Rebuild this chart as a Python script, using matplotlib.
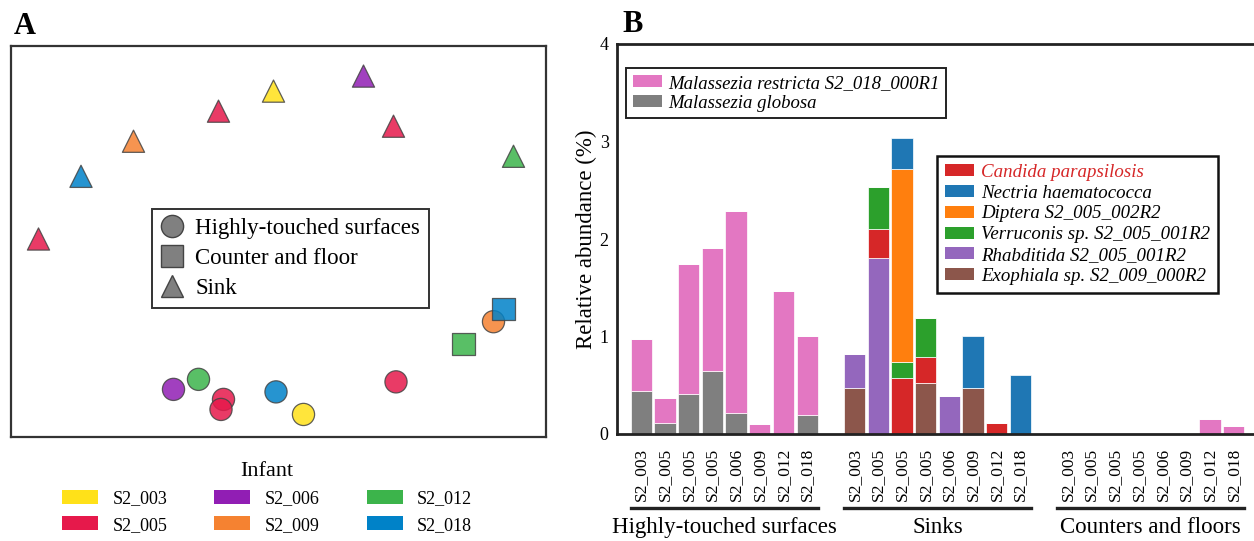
import matplotlib.pyplot as plt
from matplotlib.patches import Patch
from matplotlib.lines import Line2D
import numpy as np

plt.rcParams['font.family'] = ['Liberation Serif', 'DejaVu Serif']

# ---- Panel A: ordination of samples ----
infants = ['S2_003', 'S2_005', 'S2_006', 'S2_009', 'S2_012', 'S2_018']
infant_colors = ['#ffe119', '#e6194b', '#911eb4', '#f58231', '#3cb44b', '#0082c8']

# sink samples (triangles)
sink_infant = ['S2_006', 'S2_003', 'S2_005', 'S2_005', 'S2_009', 'S2_012', 'S2_018', 'S2_005']
sink_x = [0.34, -0.02, -0.24, 0.46, -0.58, 0.94, -0.79, -0.96]
sink_y = [0.66, 0.60, 0.52, 0.46, 0.40, 0.34, 0.26, 0.01]

# highly-touched surface samples (circles)
surf_infant = ['S2_009', 'S2_006', 'S2_012', 'S2_005', 'S2_005', 'S2_018', 'S2_003', 'S2_005']
surf_x = [0.86, -0.42, -0.32, -0.22, -0.23, -0.01, 0.10, 0.47]
surf_y = [-0.32, -0.59, -0.55, -0.63, -0.67, -0.60, -0.69, -0.56]

# counter and floor samples (squares)
floor_infant = ['S2_018', 'S2_012']
floor_x = [0.90, 0.74]
floor_y = [-0.27, -0.41]

# ---- Panel B: relative abundance per sample ----
samples = ['S2_003', 'S2_005', 'S2_005', 'S2_005', 'S2_006', 'S2_009', 'S2_012', 'S2_018']
groups = ['Highly-touched surfaces', 'Sinks', 'Counters and floors']

zero = [0] * 8
m_globosa = [0.44, 0.11, 0.41, 0.65, 0.22, 0, 0, 0.19] + zero + zero
m_restricta = [0.53, 0.26, 1.33, 1.26, 2.07, 0.10, 1.47, 0.82] + zero + [0, 0, 0, 0, 0, 0, 0.15, 0.08]
exophiala = zero + [0.47, 0, 0, 0.52, 0, 0.47, 0, 0] + zero
rhabditida = zero + [0.35, 1.81, 0, 0, 0.39, 0, 0, 0] + zero
candida = zero + [0, 0.29, 0.57, 0.27, 0, 0, 0.11, 0] + zero
verruconis = zero + [0, 0.43, 0.17, 0.40, 0, 0, 0, 0] + zero
diptera = zero + [0, 0, 1.98, 0, 0, 0, 0, 0] + zero
nectria = zero + [0, 0, 0.32, 0, 0, 0.54, 0, 0.61] + zero

W, H = 1254, 541
fig = plt.figure(figsize=(W / 100, H / 100), dpi=100)

# Panel A
axA = fig.add_axes([11 / W, 1 - 437 / H, 535 / W, 391 / H])
for lst_x, lst_y, lst_inf, mk in [(surf_x, surf_y, surf_infant, 'o'),
                                  (floor_x, floor_y, floor_infant, 's'),
                                  (sink_x, sink_y, sink_infant, '^')]:
    cols = [infant_colors[infants.index(i)] for i in lst_inf]
    axA.scatter(lst_x, lst_y, c=cols, marker=mk, s=255, alpha=0.85,
                edgecolors='#444444', linewidths=0.9, zorder=3)
axA.set_xlim(-1.07, 1.07)
axA.set_ylim(-0.78, 0.78)
axA.set_xticks([])
axA.set_yticks([])
for sp in axA.spines.values():
    sp.set_linewidth(1.6)
    sp.set_color('#333333')

shape_handles = [
    Line2D([], [], marker='o', ls='', ms=16, mfc='#808080', mec='#444444', label='Highly-touched surfaces'),
    Line2D([], [], marker='s', ls='', ms=16, mfc='#808080', mec='#444444', label='Counter and floor'),
    Line2D([], [], marker='^', ls='', ms=16, mfc='#808080', mec='#444444', label='Sink'),
]
legA = axA.legend(handles=shape_handles, loc='upper left', bbox_to_anchor=(0.264, 0.583),
                  borderaxespad=0, fontsize=16.5, fancybox=False, framealpha=1,
                  edgecolor='#333333', handlelength=0.95, handletextpad=0.55,
                  labelspacing=0.4, borderpad=0.38)
legA.get_frame().set_linewidth(1.4)

inf_handles = [Patch(facecolor=c, label=l) for c, l in zip(infant_colors, infants)]
fig.legend(handles=inf_handles, title='Infant', ncol=3, loc='upper center',
           bbox_to_anchor=(267 / W, 1 - 446 / H), frameon=False, fontsize=13,
           title_fontsize=16, handlelength=2.0, handleheight=0.8,
           handletextpad=0.8, columnspacing=2.6, labelspacing=0.5)

# Panel B
axB = fig.add_axes([617 / W, 1 - 434 / H, 645 / W, 390 / H])
pos = np.concatenate([np.arange(8), np.arange(9, 17), np.arange(18, 26)])

stack = [
    (m_globosa, '#7f7f7f'),
    (m_restricta, '#e377c2'),
    (exophiala, '#8c564b'),
    (rhabditida, '#9467bd'),
    (candida, '#d62728'),
    (verruconis, '#2ca02c'),
    (diptera, '#ff7f0e'),
    (nectria, '#1f77b4'),
]
bottom = np.zeros(len(pos))
for vals, col in stack:
    vals = np.array(vals)
    axB.bar(pos, vals, bottom=bottom, width=0.9, color=col, edgecolor='white', linewidth=0.5)
    bottom += vals

axB.set_xlim(-1.03, 26.2)
axB.set_ylim(0, 4)
axB.set_yticks([0, 1, 2, 3, 4])
axB.set_xticks(pos)
axB.set_xticklabels(samples * 3, rotation=90)
axB.tick_params(axis='both', length=0, labelsize=13)
axB.tick_params(axis='x', pad=10, labelsize=12.5)
axB.tick_params(axis='y', pad=6)
axB.set_ylabel('Relative abundance (%)', fontsize=16.5, labelpad=2)
for sp in axB.spines.values():
    sp.set_linewidth(2)
    sp.set_color('#222222')

# group brackets under the sample labels
trans = axB.get_xaxis_transform()
for g, name in enumerate(groups):
    x0 = g * 9 - 0.45
    x1 = g * 9 + 7.45
    axB.plot([x0, x1], [-0.19, -0.19], color='#222222', lw=2.4, transform=trans, clip_on=False)
    axB.text((x0 + x1) / 2, -0.24, name, transform=trans, ha='center', va='center', fontsize=16.5)

leg1 = axB.legend(handles=[Patch(facecolor='#e377c2', label='Malassezia restricta S2_018_000R1'),
                           Patch(facecolor='#7f7f7f', label='Malassezia globosa')],
                  loc='upper left', bbox_to_anchor=(0.014, 0.938), borderaxespad=0,
                  prop={'style': 'italic', 'size': 13.5}, fancybox=False, framealpha=1,
                  edgecolor='#222222', handlelength=1.55, handleheight=0.6,
                  labelspacing=0.15, borderpad=0.35, handletextpad=0.35)
leg1.get_frame().set_linewidth(1.4)
axB.add_artist(leg1)

leg2_labels = ['Candida parapsilosis', 'Nectria haematococca', 'Diptera S2_005_002R2',
               'Verruconis sp. S2_005_001R2', 'Rhabditida S2_005_001R2', 'Exophiala sp. S2_009_000R2']
leg2_colors = ['#d62728', '#1f77b4', '#ff7f0e', '#2ca02c', '#9467bd', '#8c564b']
leg2 = axB.legend(handles=[Patch(facecolor=c, label=l) for c, l in zip(leg2_colors, leg2_labels)],
                  loc='upper left', bbox_to_anchor=(0.496, 0.713), borderaxespad=0,
                  prop={'style': 'italic', 'size': 13.6}, fancybox=False, framealpha=1,
                  edgecolor='#111111', handlelength=1.55, handleheight=0.6,
                  labelspacing=0.2, borderpad=0.42, handletextpad=0.35)
leg2.get_frame().set_linewidth(1.8)
leg2.get_texts()[0].set_color('#d62728')

fig.text(14 / W, 1 - 27 / H, 'A', fontsize=22, fontweight='bold', va='center', ha='left')
fig.text(622 / W, 1 - 24 / H, 'B', fontsize=22, fontweight='bold', va='center', ha='left')

fig.savefig('out.png', dpi=100)
